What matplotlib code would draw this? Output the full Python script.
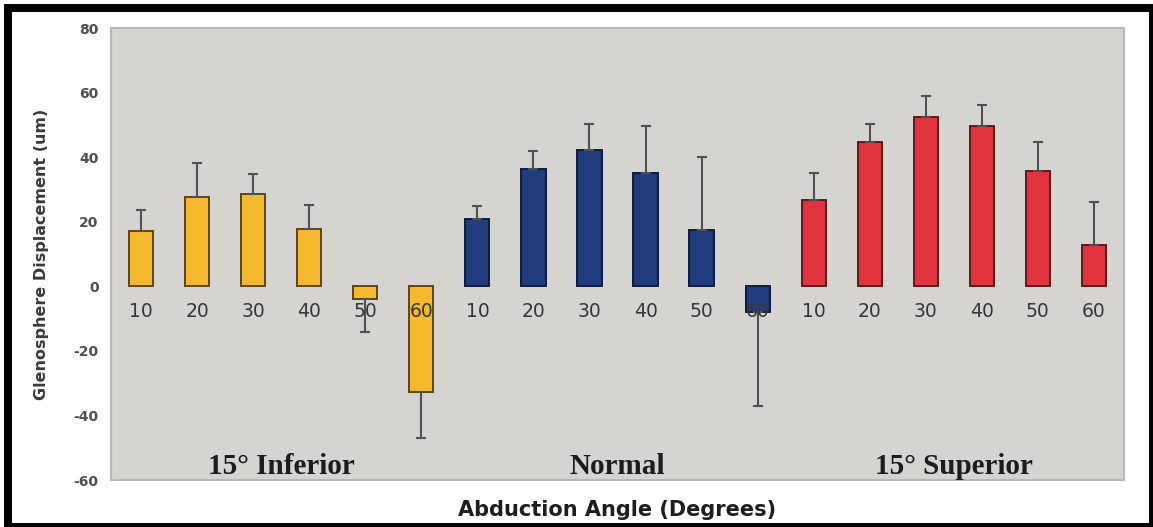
import matplotlib
matplotlib.use("Agg")
import matplotlib.pyplot as plt
from matplotlib.patches import Rectangle
import numpy as np

# abduction angles repeated in each humeral-position group
angles = [10, 20, 30, 40, 50, 60]
groups = ["15° Inferior", "Normal", "15° Superior"]

# mean glenosphere displacement (um) per angle
inferior_mean = [17.1, 27.6, 28.5, 17.6, -3.8, -32.6]
normal_mean = [20.8, 36.3, 42.1, 35.1, 17.4, -8.0]
superior_mean = [26.8, 44.7, 52.5, 49.6, 35.8, 12.8]

# one-sided error bar lengths
inferior_err = [6.5, 10.6, 6.3, 7.6, 10.4, 14.3]
normal_err = [4.1, 5.5, 8.3, 14.7, 22.5, 29.0]
superior_err = [8.3, 5.7, 6.4, 6.5, 8.9, 13.2]

means = [inferior_mean, normal_mean, superior_mean]
errs = [inferior_err, normal_err, superior_err]
fills = ["#f4b92f", "#213d7d", "#e1343f"]
edges = ["#5c4614", "#101a3c", "#5a1a1e"]

plt.rcParams["axes.unicode_minus"] = False

W, H = 1153, 527
fig = plt.figure(figsize=(W / 100, H / 100), dpi=100, facecolor="white")
ax = fig.add_axes([111 / W, 1 - 480 / H, (1124 - 111) / W, (480 - 28) / H])
ax.set_facecolor("#d6d4d1")

n = len(angles)
for g, (m, e) in enumerate(zip(means, errs)):
    m = np.array(m)
    e = np.array(e)
    x = np.arange(n) + g * n
    # error bar only on the side away from zero
    lower = np.where(m < 0, e, 0)
    upper = np.where(m >= 0, e, 0)
    ax.bar(x, m, width=0.43, color=fills[g], edgecolor=edges[g], linewidth=1.4,
           yerr=[lower, upper], zorder=3,
           error_kw=dict(ecolor="#505050", elinewidth=1.5, capsize=3.5,
                         capthick=1.5, zorder=3.5))
    for xi, a in zip(x, angles):
        ax.text(xi, -7.8, str(a), ha="center", va="center", fontsize=13.5,
                color="#363636", zorder=4)
    ax.text(g * n + 2.5, -58.2, groups[g], ha="center", va="baseline",
            family="Liberation Serif", fontweight="bold", fontsize=21,
            color="#1c1c1c", zorder=4)

ax.set_xlim(-0.54, 3 * n - 0.46)
ax.set_ylim(-60, 80)
ax.set_xticks([])
ax.set_yticks(np.arange(-60, 81, 20))
ax.tick_params(axis="y", length=0, pad=9, labelsize=10, labelcolor="#505050")
for lbl in ax.get_yticklabels():
    lbl.set_fontweight("bold")

for s in ax.spines.values():
    s.set_color("#b8b8b8")
    s.set_linewidth(1.5)

ax.set_ylabel("Glenosphere Displacement (um)", fontsize=11.5, fontweight="bold",
              color="#3a3a3a")
ax.yaxis.label.set_va("center")
ax.yaxis.set_label_coords(-0.069, 0.5)
ax.set_xlabel("Abduction Angle (Degrees)", fontsize=15, fontweight="bold",
              color="#1e1e1e")
ax.xaxis.label.set_va("center")
ax.xaxis.set_label_coords(0.5, -0.066)

# black picture frame
for (x0, y0, w, h) in [(4, 4, 8, 523), (4, 4, 1149, 8), (1149, 4, 4, 523), (4, 523, 1149, 4)]:
    fig.add_artist(Rectangle((x0 / W, 1 - (y0 + h) / H), w / W, h / H,
                             transform=fig.transFigure, color="black", lw=0))

fig.savefig("out.png", dpi=100, facecolor="white")
